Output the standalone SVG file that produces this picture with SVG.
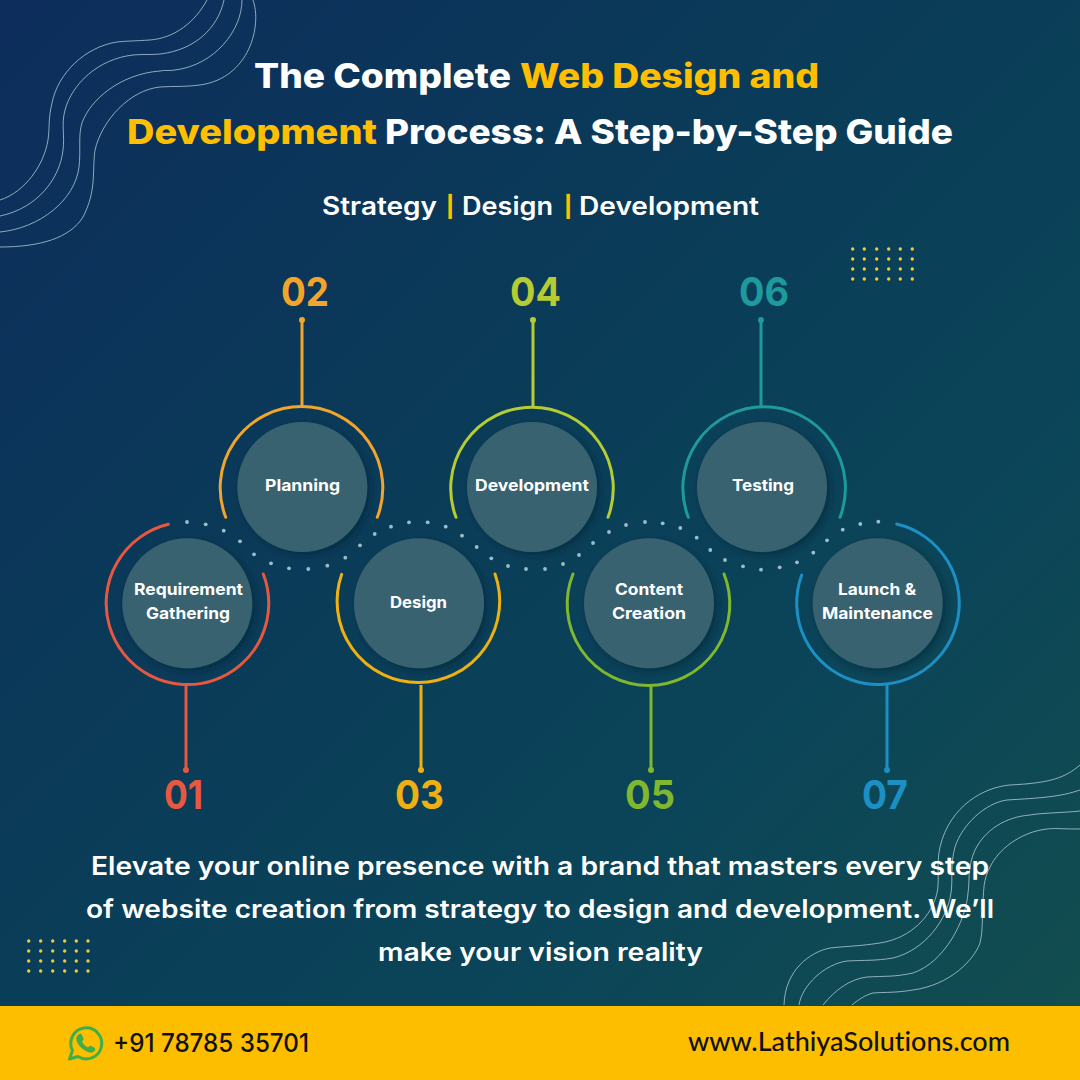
<svg xmlns="http://www.w3.org/2000/svg" width="1080" height="1080" viewBox="0 0 1080 1080">
<style>
text{font-family:"Inter","Liberation Sans",sans-serif}
.w{fill:#fff}.y{fill:#ffbe00}
.title{font-size:34px;font-weight:800}
.sub{font-size:25px;font-weight:600}
.pipe{font-size:21px;font-weight:800}
.body{font-size:25px;font-weight:600;fill:#fff}
.label{font-size:16px;font-weight:700;fill:#fff}
.num{font-size:40px;font-weight:700}
.ring{fill:none;stroke-width:3;stroke-linecap:round}
.disc{fill:#39626f;filter:url(#sh)}
.wave{fill:none;stroke:#c4dde6;stroke-opacity:.7;stroke-width:1}
.gd{fill:#f0cb3a}
.wd{fill:#9dbdc9}
.stem{stroke-width:3;fill:none}
</style>
<defs>
<linearGradient id="bg" x1="0" y1="0" x2="1" y2="1">
<stop offset="0" stop-color="#0d2d5c"/>
<stop offset=".42" stop-color="#0a3c58"/>
<stop offset=".7" stop-color="#0b4558"/>
<stop offset="1" stop-color="#134e4e"/>
</linearGradient>
<filter id="sh" x="-30%" y="-30%" width="160%" height="160%">
<feDropShadow dx="3" dy="3" stdDeviation="3" flood-color="#04202f" flood-opacity=".5"/>
</filter>
</defs>
<rect width="1080" height="1080" fill="url(#bg)"/>
<g id="waves-top-left">
<path class="wave" d="M207,0 C195,22 175,38 150,40 C135,41 125,41 117,42 C85,47 58,73 52,103 C48,120 50,125 48,140 C44,165 25,192 0,200"/>
<path class="wave" d="M224,0 C218,28 195,50 160,54 C150,55 145,54 133,55 C98,59 72,84 65,110 C61,125 65,135 63,150 C60,178 38,208 0,216"/>
<path class="wave" d="M242,0 C242,30 215,65 175,70 C168,71 165,70 160,71 C120,74 90,100 82,123 C78,135 81,150 79,167 C75,200 40,228 0,232"/>
<path class="wave" d="M253,0 C262,25 250,78 200,85 C185,87 175,86 160,87 C130,90 102,120 95,150 C92,170 97,190 83,217 C70,238 40,247 0,247"/>
</g>
<g id="waves-bottom-right">
<path class="wave" d="M1080,765 C1065,778 1050,783 1010,785 C985,787 950,805 940,847 C936,865 940,880 937,893 C932,915 912,938 880,943 C860,946 850,946 830,948 C810,952 785,970 784,1005"/>
<path class="wave" d="M1080,790 C1060,797 1040,798 1007,800 C985,803 962,825 955,847 C950,865 953,880 951,893 C947,920 925,950 893,958 C875,961 865,960 847,961 C825,964 802,985 799,1005"/>
<path class="wave" d="M1080,811 C1060,813 1040,813 1030,815 C1005,817 985,830 975,850 C967,868 970,880 968,893 C966,920 945,962 913,973 C895,977 885,976 867,977 C850,979 835,990 823,1005"/>
<path class="wave" d="M1080,829 C1060,829 1055,828 1047,829 C1020,832 998,850 990,867 C983,880 984,890 983,900 C982,920 983,930 980,943 C974,960 950,985 913,990 C895,993 885,992 873,993 C865,995 858,1000 852,1005"/>
</g>
<g id="dots-top-right" class="gd">
<circle cx="852.7" cy="249" r="1.7"/><circle cx="864.3" cy="249" r="1.7"/><circle cx="876.7" cy="249" r="1.7"/><circle cx="888.7" cy="249" r="1.7"/><circle cx="900.3" cy="249" r="1.7"/><circle cx="912.3" cy="249" r="1.7"/>
<circle cx="852.7" cy="259" r="1.7"/><circle cx="864.3" cy="259" r="1.7"/><circle cx="876.7" cy="259" r="1.7"/><circle cx="888.7" cy="259" r="1.7"/><circle cx="900.3" cy="259" r="1.7"/><circle cx="912.3" cy="259" r="1.7"/>
<circle cx="852.7" cy="269" r="1.7"/><circle cx="864.3" cy="269" r="1.7"/><circle cx="876.7" cy="269" r="1.7"/><circle cx="888.7" cy="269" r="1.7"/><circle cx="900.3" cy="269" r="1.7"/><circle cx="912.3" cy="269" r="1.7"/>
<circle cx="852.7" cy="279" r="1.7"/><circle cx="864.3" cy="279" r="1.7"/><circle cx="876.7" cy="279" r="1.7"/><circle cx="888.7" cy="279" r="1.7"/><circle cx="900.3" cy="279" r="1.7"/><circle cx="912.3" cy="279" r="1.7"/>
</g>
<g id="dots-bottom-left" class="gd">
<circle cx="28.7" cy="941" r="1.7"/><circle cx="40.7" cy="941" r="1.7"/><circle cx="52.7" cy="941" r="1.7"/><circle cx="64.7" cy="941" r="1.7"/><circle cx="76.3" cy="941" r="1.7"/><circle cx="88" cy="941" r="1.7"/>
<circle cx="28.7" cy="951" r="1.7"/><circle cx="40.7" cy="951" r="1.7"/><circle cx="52.7" cy="951" r="1.7"/><circle cx="64.7" cy="951" r="1.7"/><circle cx="76.3" cy="951" r="1.7"/><circle cx="88" cy="951" r="1.7"/>
<circle cx="28.7" cy="961" r="1.7"/><circle cx="40.7" cy="961" r="1.7"/><circle cx="52.7" cy="961" r="1.7"/><circle cx="64.7" cy="961" r="1.7"/><circle cx="76.3" cy="961" r="1.7"/><circle cx="88" cy="961" r="1.7"/>
<circle cx="28.7" cy="971" r="1.7"/><circle cx="40.7" cy="971" r="1.7"/><circle cx="52.7" cy="971" r="1.7"/><circle cx="64.7" cy="971" r="1.7"/><circle cx="76.3" cy="971" r="1.7"/><circle cx="88" cy="971" r="1.7"/>
</g>
<g id="heading">
<text class="title w" x="254" y="88" textLength="257" lengthAdjust="spacingAndGlyphs">The Complete</text>
<text class="title y" x="520" y="88" textLength="299" lengthAdjust="spacingAndGlyphs">Web Design and</text>
<text class="title y" x="127" y="144" textLength="250" lengthAdjust="spacingAndGlyphs">Development</text>
<text class="title w" x="385" y="144" textLength="568" lengthAdjust="spacingAndGlyphs">Process: A Step-by-Step Guide</text>
<text class="sub w" x="322" y="215" textLength="115" lengthAdjust="spacingAndGlyphs">Strategy</text>
<text class="pipe y" x="446" y="214">|</text>
<text class="sub w" x="462" y="215" textLength="91" lengthAdjust="spacingAndGlyphs">Design</text>
<text class="pipe y" x="564" y="214">|</text>
<text class="sub w" x="579" y="215" textLength="180" lengthAdjust="spacingAndGlyphs">Development</text>
</g>
<g id="wave-dots" class="wd">
<circle cx="187" cy="522" r="1.9"/><circle cx="205.7" cy="524.3" r="1.9"/><circle cx="223.7" cy="530.7" r="1.9"/><circle cx="240" cy="541.3" r="1.9"/><circle cx="254" cy="554.3" r="1.9"/><circle cx="271" cy="563.3" r="1.9"/><circle cx="289" cy="568.3" r="1.9"/><circle cx="308.3" cy="569" r="1.9"/><circle cx="327.3" cy="565.7" r="1.9"/><circle cx="345.3" cy="557.7" r="1.9"/><circle cx="360" cy="545.3" r="1.9"/><circle cx="374.7" cy="534" r="1.9"/><circle cx="391" cy="526.7" r="1.9"/><circle cx="409" cy="522.3" r="1.9"/><circle cx="427.7" cy="522.3" r="1.9"/><circle cx="445.7" cy="526.7" r="1.9"/><circle cx="462" cy="535.7" r="1.9"/><circle cx="476.7" cy="547" r="1.9"/><circle cx="491.3" cy="558.3" r="1.9"/><circle cx="508" cy="566" r="1.9"/><circle cx="526" cy="569" r="1.9"/><circle cx="545" cy="569" r="1.9"/><circle cx="563" cy="564" r="1.9"/><circle cx="579" cy="555" r="1.9"/><circle cx="593" cy="543" r="1.9"/><circle cx="609" cy="532" r="1.9"/><circle cx="626" cy="525" r="1.9"/><circle cx="645" cy="522" r="1.9"/><circle cx="662.7" cy="523.3" r="1.9"/><circle cx="680.3" cy="528" r="1.9"/><circle cx="696.7" cy="537.7" r="1.9"/><circle cx="710.3" cy="550" r="1.9"/><circle cx="725" cy="560" r="1.9"/><circle cx="743" cy="566.3" r="1.9"/><circle cx="761" cy="569.7" r="1.9"/><circle cx="779.7" cy="567.3" r="1.9"/><circle cx="797" cy="562.3" r="1.9"/><circle cx="813.3" cy="552.7" r="1.9"/><circle cx="827" cy="540.3" r="1.9"/><circle cx="842.7" cy="529.7" r="1.9"/><circle cx="860.3" cy="524" r="1.9"/><circle cx="878.3" cy="521.7" r="1.9"/>
</g>
<g id="connectors">
<path class="stem" stroke="#e8573f" d="M186,685V770"/><circle cx="186" cy="770" r="3" fill="#e8573f"/>
<path class="stem" stroke="#f2a52a" d="M302,406V320"/><circle cx="302" cy="320" r="3" fill="#f2a52a"/>
<path class="stem" stroke="#eeb111" d="M421,685V770"/><circle cx="421" cy="770" r="3" fill="#eeb111"/>
<path class="stem" stroke="#b6cc33" d="M533,406V320"/><circle cx="533" cy="320" r="3" fill="#b6cc33"/>
<path class="stem" stroke="#7fb72f" d="M651,685V770"/><circle cx="651" cy="770" r="3" fill="#7fb72f"/>
<path class="stem" stroke="#1f9a9c" d="M761,406V320"/><circle cx="761" cy="320" r="3" fill="#1f9a9c"/>
<path class="stem" stroke="#1c8fc4" d="M887,685V770"/><circle cx="887" cy="770" r="3" fill="#1c8fc4"/>
</g>
<g id="node-01">
<path class="ring" stroke="#e8573f" d="M168.3,524.3 A81.3,81.3 0 1 0 263.3,574"/>
<circle class="disc" cx="187.3" cy="603.3" r="65"/>
<text class="label" x="134" y="595" textLength="109" lengthAdjust="spacingAndGlyphs">Requirement</text>
<text class="label" x="146" y="619" textLength="84" lengthAdjust="spacingAndGlyphs">Gathering</text>
<text class="num" x="164" y="809" fill="#e8573f" textLength="39" lengthAdjust="spacingAndGlyphs">01</text>
</g>
<g id="node-02">
<path class="ring" stroke="#f2a52a" d="M225.7,517.3 A81.3,81.3 0 1 1 377.3,517.3"/>
<circle class="disc" cx="302.3" cy="487" r="65"/>
<text class="label" x="265" y="491" textLength="75" lengthAdjust="spacingAndGlyphs">Planning</text>
<text class="num" x="281" y="306" fill="#f2a52a" textLength="48" lengthAdjust="spacingAndGlyphs">02</text>
</g>
<g id="node-03">
<path class="ring" stroke="#eeb111" d="M341.7,574.3 A81.3,81.3 0 1 0 495,574"/>
<circle class="disc" cx="419" cy="603.3" r="65"/>
<text class="label" x="390" y="608" textLength="57" lengthAdjust="spacingAndGlyphs">Design</text>
<text class="num" x="395" y="809" fill="#eeb111" textLength="49" lengthAdjust="spacingAndGlyphs">03</text>
</g>
<g id="node-04">
<path class="ring" stroke="#b6cc33" d="M456,517.3 A81.3,81.3 0 1 1 608,517.3"/>
<circle class="disc" cx="532" cy="487" r="65"/>
<text class="label" x="475" y="491" textLength="114" lengthAdjust="spacingAndGlyphs">Development</text>
<text class="num" x="510" y="306" fill="#b6cc33" textLength="51" lengthAdjust="spacingAndGlyphs">04</text>
</g>
<g id="node-05">
<path class="ring" stroke="#7fb72f" d="M573,574 A81.3,81.3 0 1 0 724,574"/>
<circle class="disc" cx="649" cy="603.3" r="65"/>
<text class="label" x="615" y="595" textLength="68" lengthAdjust="spacingAndGlyphs">Content</text>
<text class="label" x="612" y="619" textLength="74" lengthAdjust="spacingAndGlyphs">Creation</text>
<text class="num" x="625" y="809" fill="#7fb72f" textLength="50" lengthAdjust="spacingAndGlyphs">05</text>
</g>
<g id="node-06">
<path class="ring" stroke="#1f9a9c" d="M688.3,517.3 A81.3,81.3 0 1 1 840,517.3"/>
<circle class="disc" cx="762" cy="487" r="65"/>
<text class="label" x="732" y="491" textLength="62" lengthAdjust="spacingAndGlyphs">Testing</text>
<text class="num" x="739" y="306" fill="#1f9a9c" textLength="50" lengthAdjust="spacingAndGlyphs">06</text>
</g>
<g id="node-07">
<path class="ring" stroke="#1c8fc4" d="M801.7,575 A81.3,81.3 0 1 0 896.7,524"/>
<circle class="disc" cx="877.7" cy="603.3" r="65"/>
<text class="label" x="838" y="595" textLength="78" lengthAdjust="spacingAndGlyphs">Launch &amp;</text>
<text class="label" x="822" y="619" textLength="111" lengthAdjust="spacingAndGlyphs">Maintenance</text>
<text class="num" x="862" y="809" fill="#1c8fc4" textLength="46" lengthAdjust="spacingAndGlyphs">07</text>
</g>
<g id="description">
<text class="body" x="91" y="875" textLength="898" lengthAdjust="spacingAndGlyphs">Elevate your online presence with a brand that masters every step</text>
<text class="body" x="86" y="918" textLength="908" lengthAdjust="spacingAndGlyphs">of website creation from strategy to design and development. We’ll</text>
<text class="body" x="378" y="961" textLength="325" lengthAdjust="spacingAndGlyphs">make your vision reality</text>
</g>
<g id="footer">
<rect y="1006" width="1080" height="74" fill="#fdbe00"/>
<path d="M69.5,1059 L72.5,1050.5 A15.5,15.5 0 1 1 78,1056.5 Z" fill="none" stroke="#3fae49" stroke-width="3" stroke-linejoin="round"/>
<path d="M78.5,1034.5 C80,1033.5 81.5,1033.5 82,1035 L83.5,1038.5 C84,1039.5 83,1040.5 82,1041.5 C83,1044 85.5,1046.5 88,1047.5 C89,1046.5 90,1045.3 91,1046 L94.5,1047.8 C95.5,1048.5 95.5,1050 94.5,1051 C92.5,1053 89.5,1053 86,1051 C81,1048.5 77.5,1044.5 76.5,1040 C76,1038 76.5,1036 78.5,1034.5 Z" fill="#3fae49"/>
<text x="113" y="1052" font-size="25" font-weight="500" fill="#111" textLength="196" lengthAdjust="spacingAndGlyphs">+91 78785 35701</text>
<text x="688" y="1051" font-size="26" font-weight="500" fill="#111" style="font-family:'Lato','Liberation Sans',sans-serif;font-variant-ligatures:none" textLength="322" lengthAdjust="spacingAndGlyphs">www.LathiyaSolutions.com</text>
</g>
</svg>
